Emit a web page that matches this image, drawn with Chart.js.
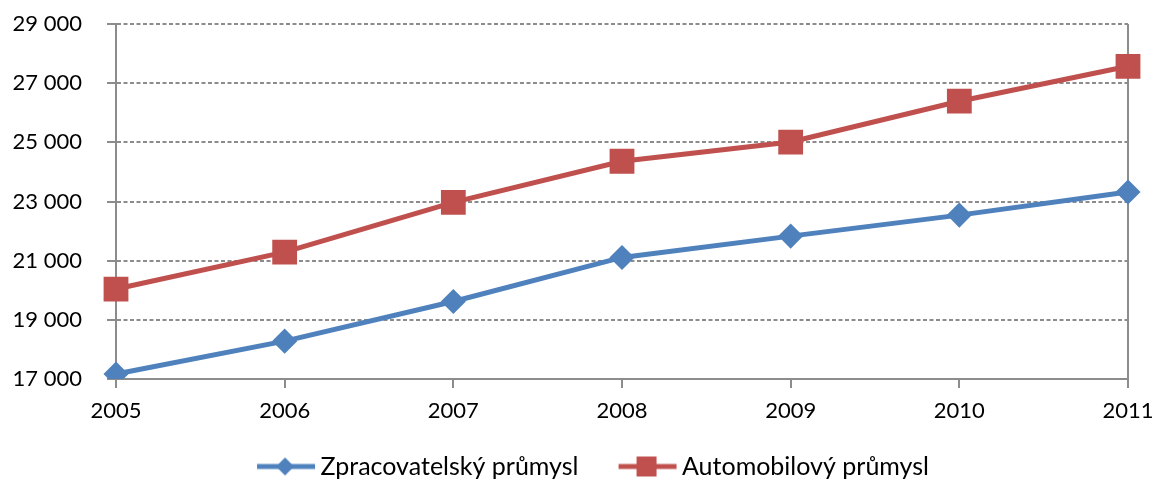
<!DOCTYPE html>
<html>
<head>
<meta charset="utf-8">
<script src="https://cdn.jsdelivr.net/npm/chart.js@4/dist/chart.umd.min.js"></script>
<style>
  html, body { margin: 0; padding: 0; background: #fff; }
  #wrap { width: 1156px; height: 481px; }
</style>
</head>
<body>
<div id="wrap"><canvas id="graf"></canvas></div>
<script>
const roky = ["2005", "2006", "2007", "2008", "2009", "2010", "2011"];
const zpracovatelsky = [17170, 18280, 19620, 21110, 21830, 22540, 23320];
const automobilovy = [20040, 21290, 22970, 24360, 25010, 26390, 27570];
const osaY = [17000, 19000, 21000, 23000, 25000, 27000, 29000];

const modra = "#4F81BD";
const cervena = "#C0504D";
const seda = "#8C8C8C";
const pismo = "Lato, 'Open Sans', sans-serif";

// ikonka do legendy: cara + znacka, zarovnana doprava (vlevo prazdne misto = mezera mezi polozkami)
const boxSirka = 62;
function ikona(barva, tvar) {
    const c = document.createElement("canvas");
    c.width = boxSirka + 18; c.height = 24;
    const g = c.getContext("2d");
    const x0 = c.width - 62;
    g.strokeStyle = barva;
    g.lineWidth = 5;
    g.beginPath(); g.moveTo(x0 + 2, 12); g.lineTo(x0 + 60, 12); g.stroke();
    g.fillStyle = barva;
    if (tvar === "kosoctverec") {
        g.beginPath(); g.moveTo(x0 + 30, 3); g.lineTo(x0 + 39, 12); g.lineTo(x0 + 30, 21); g.lineTo(x0 + 21, 12); g.closePath(); g.fill();
    } else {
        g.fillRect(x0 + 20, 2, 20, 20);
    }
    return c;
}

const ikony = [ikona(modra, "kosoctverec"), ikona(cervena, "ctverec")];

// legenda je v originale posunuta trochu doprava
const posunLegendy = {
    id: "posunLegendy",
    afterLayout(chart) {
        if (chart.legend) chart.legend.left += 47;
    }
};

new Chart(document.getElementById("graf"), {
    type: "line",
    data: {
        labels: roky,
        datasets: [{
            label: "Zpracovatelský průmysl",
            data: zpracovatelsky,
            borderColor: modra,
            backgroundColor: modra,
            borderWidth: 5,
            pointStyle: "rectRot",
            pointRadius: 9,
            pointHoverRadius: 9,
            tension: 0
        }, {
            label: "Automobilový průmysl",
            data: automobilovy,
            borderColor: cervena,
            backgroundColor: cervena,
            borderWidth: 5,
            pointStyle: "rect",
            pointRadius: 14,
            pointHoverRadius: 14,
            tension: 0
        }]
    },
    options: {
        responsive: true,
        maintainAspectRatio: false,
        animation: false,
        layout: { padding: { top: 24, right: 28, left: 0, bottom: 0 } },
        scales: {
            x: {
                offset: false,
                afterFit: (axis) => {
                    axis.height = 46;
                    axis.paddingLeft = 0;
                    axis.paddingRight = 0;
                },
                grid: {
                    color: (ctx) => ctx.index === roky.length - 1 ? seda : "transparent",
                    lineWidth: 2,
                    tickColor: seda,
                    tickLength: 9
                },
                border: { color: seda, width: 2 },
                ticks: {
                    color: "#000",
                    font: { family: pismo, size: 22 },
                    padding: 10,
                    maxRotation: 0
                }
            },
            y: {
                min: 17000,
                max: 29000,
                afterBuildTicks: (axis) => { axis.ticks = osaY.map(v => ({ value: v })); },
                afterFit: (axis) => {
                    axis.width = 116;
                    axis.paddingTop = 0;
                    axis.paddingBottom = 0;
                },
                grid: {
                    color: seda,
                    lineWidth: 2,
                    tickColor: seda,
                    tickLength: 9,
                    tickBorderDash: []
                },
                border: { color: seda, width: 2, dash: [4, 2.5] },
                ticks: {
                    color: "#000",
                    font: { family: pismo, size: 22 },
                    padding: 25,
                    callback: (v) => String(v).replace(/\B(?=(\d{3})+(?!\d))/g, " ")
                }
            }
        },
        plugins: {
            legend: {
                position: "bottom",
                maxHeight: 56,
                labels: {
                    usePointStyle: true,
                    pointStyleWidth: boxSirka,
                    color: "#000",
                    font: { family: pismo, size: 25 },
                    padding: 29,
                    generateLabels: (chart) => chart.data.datasets.map((ds, i) => ({
                        text: ds.label,
                        pointStyle: ikony[i],
                        fillStyle: ds.borderColor,
                        strokeStyle: ds.borderColor,
                        lineWidth: 0,
                        datasetIndex: i,
                        hidden: false
                    }))
                }
            },
            tooltip: { enabled: false }
        }
    },
    plugins: [posunLegendy]
});
</script>
</body>
</html>
